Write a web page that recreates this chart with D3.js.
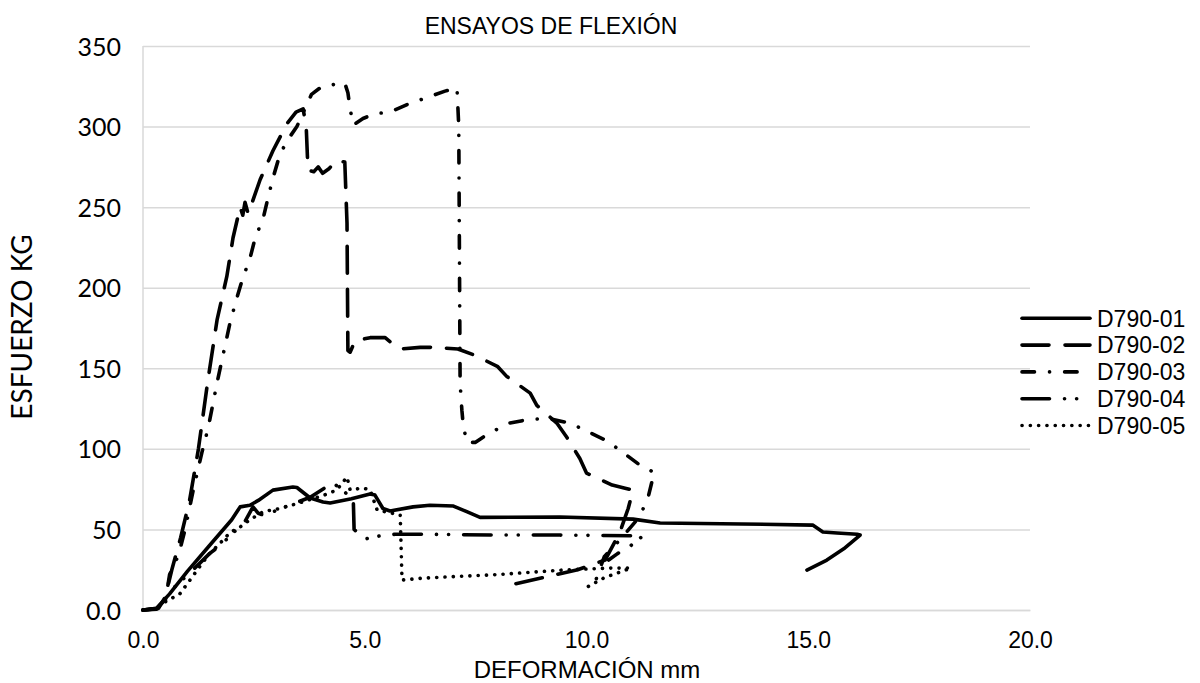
<!DOCTYPE html>
<html>
<head>
<meta charset="utf-8">
<script src="https://cdn.jsdelivr.net/npm/d3@7"></script>
<style>
  html, body { margin: 0; padding: 0; background: #fff; }
  svg { display: block; }
</style>
</head>
<body>
<svg id="chart" width="1200" height="683"></svg>
<script>
// Flexural test curves: deformation (mm) vs load (kg)
const seriesNames = ["D790-01", "D790-02", "D790-03", "D790-04", "D790-05"];

const d790_01 = [
  [0,0],[0.3,1],[0.6,10],[1.0,24],[1.5,40],[2.0,56],[2.19,64],[2.41,65],[2.6,68],[2.93,74.4],
  [3.38,76.3],[3.47,76],[3.77,69.5],[4.06,67],[4.22,66.4],[4.7,69],[5.12,72],[5.23,71.3],
  [5.41,63],[5.57,61.4],[6.09,64],[6.47,65],[7.0,64.5],[7.3,61],[7.6,57.5],[9.4,57.7],
  [11.05,56.4],[11.66,54],[13.5,53.4],[15.1,52.7],[15.33,48.4],[15.65,47.8],[16.1,47],
  [16.17,46.5],[15.8,38],[15.42,31],[14.97,24.8]
];

const d790_02 = [
  [0,0],[0.35,1],[0.5,8],[0.65,25],[0.85,45],[1.05,68],[1.25,100],[1.45,140],[1.67,180],
  [1.89,207],[2.03,231],[2.19,250],[2.25,245],[2.3,253],[2.37,246],[2.45,252],[2.64,267],
  [2.93,285],[3.25,302],[3.45,309],[3.61,311],[3.68,300],[3.72,273],[3.85,272],[3.95,275],
  [4.05,271],[4.2,274],[4.35,279],[4.55,278],[4.6,240],[4.62,161],[4.67,160],[4.78,167],
  [5.12,169],[5.46,169],[5.68,164],[5.8,162],[6.25,163],[6.54,163],[7.1,162],[7.49,158],
  [8.0,151],[8.2,145],[8.73,134.6],[8.88,127],[9.33,116],[9.56,107],[9.85,94],[10.0,85],
  [10.58,77.5],[10.87,75.6],[11.05,74.4],[10.94,63],[10.75,48],[10.42,31],[9.8,25],
  [9.0,20],[8.2,15]
];

const d790_03 = [
  [0,0],[0.4,1],[0.5,5],[0.6,22],[0.8,34],[0.95,50],[1.13,74],[1.33,98],[1.47,113],
  [1.67,141],[1.96,178],[2.12,194],[2.25,206],[2.41,218],[2.53,231],[2.71,243],[2.82,256],
  [2.93,268],[3.09,283],[3.27,292],[3.47,300],[3.6,308],[3.8,320],[4.04,325],[4.28,326],
  [4.55,327],[4.62,321],[4.67,311],[4.74,301],[4.96,305],[5.23,308],[5.57,309],[5.98,314],
  [6.4,318],[6.81,322],[7.08,324],[7.12,300],[7.15,141],[7.19,124],[7.22,115],[7.3,104],
  [7.49,104],[7.82,110],[8.27,116],[8.65,118],[9.1,119],[9.63,116],[10.08,110],[10.46,105],
  [10.76,99],[11.2,90],[11.55,85],[11.47,79],[11.39,70],[11.2,58],[10.8,45],[10.4,33],
  [10.15,14]
];

const d790_04 = [
  [0,0],[0.3,0.5],[0.45,5],[0.7,14],[1.13,25],[1.5,35],[1.74,40],[2.0,47],[2.3,55],
  [2.48,64],[2.6,60],[2.8,58],[3.0,62],[3.4,66],[3.77,70],[4.28,79],[4.6,72],[4.74,70],
  [4.76,50],[5.0,44],[5.34,46],[5.68,47],[6.29,47],[8.0,46.5],[9.4,46.5],[11.27,46],
  [11.0,40],[10.7,35],[10.5,31]
];

const d790_05 = [
  [0,0],[0.3,1],[0.45,4.3],[0.83,10],[1.06,18.6],[1.28,27],[1.5,35],[1.74,41.5],[1.96,48],
  [2.19,51.5],[2.41,56],[2.71,61],[3.09,63],[3.47,66],[3.7,68],[4.06,71],[4.37,74.5],
  [4.6,82.5],[4.67,74.5],[4.96,75.7],[5.12,74.5],[5.28,62],[5.8,59],[5.84,18.6],[6.31,19.8],
  [8.0,22],[9.47,24.8],[10.5,26],[11.0,26],[10.4,20],[10.0,14]
];

const seriesData = [d790_01, d790_02, d790_03, d790_04, d790_05];

const xTicks = [0, 5, 10, 15, 20];
const yTicks = [0, 50, 100, 150, 200, 250, 300, 350];

const chartTitle = "ENSAYOS DE FLEXIÓN";
const xTitle = "DEFORMACIÓN mm";
const yTitle = "ESFUERZO KG";

// Line styles per series (stroke dash patterns)
const dashStyles = ["none", "27,16", "12.5,15,0.1,15", "27.5,15,0.1,12,0.1,15", "0.1,8.2"];

const svg = d3.select("#chart");
const plot = { left: 143, right: 1030, top: 46, bottom: 610 };

const x = d3.scaleLinear().domain([0, 20]).range([plot.left, plot.right]);
const y = d3.scaleLinear().domain([0, 350]).range([plot.bottom, plot.top]);

const arial = "Arial, 'Liberation Sans', sans-serif";
const calibriLike = "Lato, 'Open Sans', sans-serif";

// Horizontal gridlines and y labels
const yAxis = d3.axisLeft(y)
  .tickValues(yTicks)
  .tickSize(-(plot.right - plot.left))
  .tickPadding(22)
  .tickFormat(d => d === 0 ? "0.0" : d3.format("d")(d));

const gy = svg.append("g")
  .attr("transform", `translate(${plot.left},0)`)
  .call(yAxis);
gy.select(".domain").remove();
gy.selectAll(".tick line").attr("stroke", "#d9d9d9").attr("stroke-width", 1.5);
gy.selectAll(".tick text")
  .attr("font-family", calibriLike)
  .attr("font-size", "25px")
  .attr("fill", "#000")
  .attr("dy", "0.36em");

// Left vertical axis line
svg.append("line")
  .attr("x1", plot.left).attr("x2", plot.left)
  .attr("y1", plot.top).attr("y2", plot.bottom)
  .attr("stroke", "#d9d9d9").attr("stroke-width", 1.5);

// X axis labels
const xAxis = d3.axisBottom(x)
  .tickValues(xTicks)
  .tickSize(0)
  .tickPadding(22)
  .tickFormat(d3.format(".1f"));

const gx = svg.append("g")
  .attr("transform", `translate(0,${plot.bottom})`)
  .call(xAxis);
gx.select(".domain").attr("stroke", "#d9d9d9").attr("stroke-width", 1.5);
gx.selectAll(".tick text")
  .attr("font-family", arial)
  .attr("font-size", "23px")
  .attr("fill", "#000");

// Data lines
const line = d3.line()
  .x(d => x(d[0]))
  .y(d => y(d[1]));

svg.append("g")
  .selectAll("path")
  .data(seriesData)
  .join("path")
  .attr("d", line)
  .attr("fill", "none")
  .attr("stroke", "#000")
  .attr("stroke-width", 3.6)
  .attr("stroke-linejoin", "round")
  .attr("stroke-linecap", "round")
  .attr("stroke-dasharray", (d, i) => dashStyles[i]);

// Titles
svg.append("text")
  .attr("x", 551).attr("y", 34)
  .attr("text-anchor", "middle")
  .attr("font-family", arial)
  .attr("font-size", "23px")
  .text(chartTitle);

svg.append("text")
  .attr("x", 587).attr("y", 678)
  .attr("text-anchor", "middle")
  .attr("font-family", arial)
  .attr("font-size", "24px")
  .text(xTitle);

svg.append("text")
  .attr("transform", "translate(32,327) rotate(-90)")
  .attr("text-anchor", "middle")
  .attr("font-family", calibriLike)
  .attr("font-size", "28px")
  .text(yTitle);

// Legend
const legend = svg.append("g");
const rowY = d3.scaleLinear().domain([0, 4]).range([318.3, 425.5]);
const rows = legend.selectAll("g")
  .data(seriesNames)
  .join("g")
  .attr("transform", (d, i) => `translate(0,${rowY(i)})`);

rows.append("line")
  .attr("x1", 1022).attr("x2", 1090)
  .attr("y1", 0).attr("y2", 0)
  .attr("stroke", "#000")
  .attr("stroke-width", 3.6)
  .attr("stroke-linecap", "round")
  .attr("stroke-dasharray", (d, i) => dashStyles[i]);

rows.append("text")
  .attr("x", 1097).attr("y", 8.3)
  .attr("font-family", arial)
  .attr("font-size", "23px")
  .text(d => d);
</script>
</body>
</html>
